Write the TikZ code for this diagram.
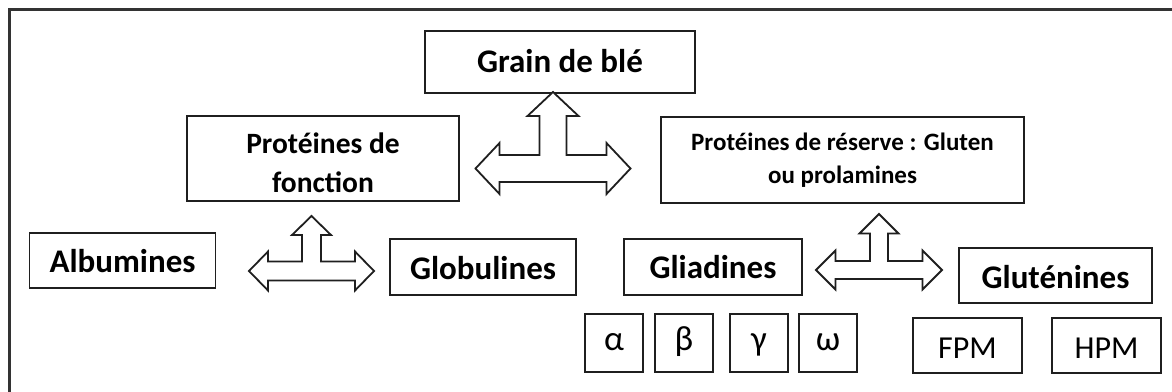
\documentclass[tikz,border=0pt]{standalone}
\usepackage{fontspec}
\setmainfont{Carlito}
\usetikzlibrary{calc}
\tikzset{
  box/.style={draw=black!88, line width=1.8pt, rectangle, inner sep=0pt, anchor=base},
  tb/.style 2 args={text height=#1pt, text depth=#2pt},
  big/.style={font=\fontsize{33}{40}\selectfont\bfseries},
  mid/.style={font=\fontsize{29.5}{39}\selectfont\bfseries},
  small/.style={font=\fontsize{25}{33}\selectfont\bfseries},
  reg/.style={font=\fontsize{32}{38}\selectfont},
  greek/.style={font=\fontsize{35}{40}\selectfont},
  txt/.style={inner sep=0pt, anchor=base, align=center},
  blockarrow/.style={draw=black!88, line width=1.8pt, line join=miter, fill=white},
  frameline/.style={draw=black!80, line width=2.8pt}
}
% #1 name, #2 cx, #3 cy, #4 half width, #5 head length, #6 head half height, #7 shaft half thickness, #8 tip y
\newcommand{\lruarrow}[8]{%
  \coordinate (#1) at (#2,#3);
  \draw[blockarrow] ({#2-#4},#3) -- ({#2-#4+#5},{#3-#6}) -- ({#2-#4+#5},{#3-#7})
    -- ({#2-#7},{#3-#7}) -- ({#2-#7},{#8+#5}) -- ({#2-#6},{#8+#5}) -- (#2,#8)
    -- ({#2+#6},{#8+#5}) -- ({#2+#7},{#8+#5}) -- ({#2+#7},{#3-#7})
    -- ({#2+#4-#5},{#3-#7}) -- ({#2+#4-#5},{#3-#6}) -- ({#2+#4},#3)
    -- ({#2+#4-#5},{#3+#6}) -- ({#2+#4-#5},{#3+#7}) -- ({#2-#4+#5},{#3+#7})
    -- ({#2-#4+#5},{#3+#6}) -- cycle;
}
\begin{document}
\begin{tikzpicture}[x=1pt,y=-1pt]
\useasboundingbox (0,0) rectangle (1172,391);
\fill[white] (0,0) rectangle (1172,391);
% outer frame (only top and left edges visible)
\coordinate (fbl) at (9.5,395);
\coordinate (ftl) at (9.5,9.5);
\coordinate (ftr) at (1176,9.5);
\draw[frameline] (fbl) -- (ftl) -- (ftr);

% top level
\node[box, big, tb={41}{21}, minimum width=270pt] (grain) at (560,72) {Grain de blé};

% second level
\node[draw=black!88, line width=1.8pt, minimum width=271.5pt, minimum height=85pt, inner sep=0pt] (fonction) at (323,158.5) {};
\node[txt, mid] (fonction-t) at (323,192) {Protéines de\\fonction};
\node[draw=black!88, line width=1.8pt, minimum width=363pt, minimum height=86pt, inner sep=0pt] (reserve) at (842.5,160) {};
\node[txt, small] (reserve-t) at (842.5,183) {Protéines de réserve : Gluten\\ou prolamines};

% third level
\node[box, big, tb={39}{16}, minimum width=186pt] (albumines) at (122.5,272) {Albumines};
\node[box, big, tb={40}{16}, minimum width=186pt] (globulines) at (483,279) {Globulines};
\node[box, big, tb={39}{17}, minimum width=177.5pt] (gliadines) at (713,278) {Gliadines};
\node[box, big, tb={40}{15}, minimum width=193pt] (glutenines) at (1055.5,288) {Gluténines};

% fourth level
\node[box, greek, tb={36}{22}, minimum width=58pt] (alpha) at (614,350) {α};
\node[box, greek, tb={36}{22}, minimum width=58pt] (beta) at (684,350) {β};
\node[box, greek, tb={36}{22}, minimum width=58pt] (gamma) at (759,350) {γ};
\node[box, greek, tb={36}{22}, minimum width=58pt] (omega) at (828,350) {ω};
\node[box, reg, tb={40}{15}, minimum width=109pt] (fpm) at (967.5,358) {FPM};
\node[box, reg, tb={40}{15}, minimum width=109pt] (hpm) at (1106.5,358) {HPM};

% three-way block arrows
\lruarrow{a1}{553}{168.5}{77.5}{24}{25.5}{13.5}{92}
\lruarrow{a2}{311.5}{271}{62.5}{19}{19.5}{9.5}{216}
\lruarrow{a3}{879}{270}{63}{19.5}{19.5}{9}{214}
\end{tikzpicture}
\end{document}
